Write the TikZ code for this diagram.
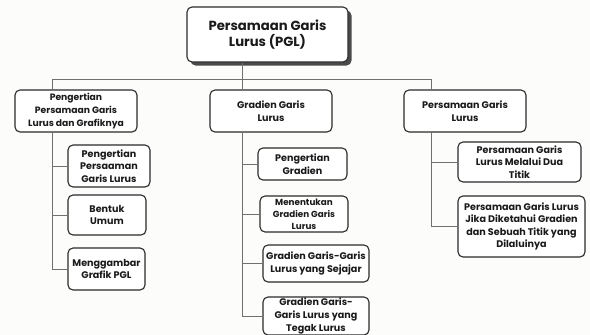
\documentclass[tikz,border=0pt]{standalone}
\usepackage{fontspec}
\setmainfont{Poppins}[BoldFont={Poppins Bold}]
\begin{document}
\begin{tikzpicture}[x=1pt,y=-1pt,
  box/.style={draw=boxc, line width=1.1pt, rounded corners=5pt, fill=white,
    align=center, inner sep=1pt, text=txt, font=\bfseries\fontsize{9.6}{12.6}\selectfont},
  conn/.style={draw=connc, line width=0.9pt}]
\definecolor{bg}{HTML}{FCFCFA}
\definecolor{boxc}{HTML}{2A2A2A}
\definecolor{txt}{HTML}{1A1A1A}
\definecolor{connc}{HTML}{707070}
\definecolor{shad}{HTML}{4A4A4A}
\fill[bg] (0,0) rectangle (590,335);
\useasboundingbox (0,0) rectangle (590,335);
% top
\fill[shad, rounded corners=5pt] (190.5,10.5) rectangle (351.5,65.5);
\node[box, minimum width=161pt, minimum height=55pt, font=\bfseries\fontsize{13.2}{16.8}\selectfont] (top) at (267.5,34.5) {Persamaan Garis\\Lurus (PGL)};
% level 1
\node[box, minimum width=122pt, minimum height=42pt, font=\bfseries\fontsize{9.2}{12.8}\selectfont] (L) at (76,111) {Pengertian\\Persamaan Garis\\Lurus dan Grafiknya};
\node[box, minimum width=122pt, minimum height=42pt] (M) at (271,111) {Gradien Garis\\Lurus};
\node[box, minimum width=122pt, minimum height=42pt] (R) at (465,111) {Persamaan Garis\\Lurus};
% left children
\node[box, minimum width=82pt, minimum height=42pt] (c1) at (109,166) {Pengertian\\Persaaman\\Garis Lurus};
\node[box, minimum width=78pt, minimum height=40pt] (c2) at (107,215) {Bentuk\\Umum};
\node[box, minimum width=77pt, minimum height=42pt] (c3) at (106.5,269) {Menggambar\\Grafik PGL};
% middle children
\node[box, minimum width=89pt, minimum height=32pt] (m1) at (302.5,164) {Pengertian\\Gradien};
\node[box, minimum width=88pt, minimum height=36pt, font=\bfseries\fontsize{8.8}{11.8}\selectfont] (m2) at (304,214) {Menentukan\\Gradien Garis\\Lurus};
\node[box, minimum width=106pt, minimum height=37pt] (m3) at (316,263.5) {Gradien Garis-Garis\\Lurus yang Sejajar};
\node[box, minimum width=106pt, minimum height=38pt] (m4) at (316,316) {Gradien Garis-\\Garis Lurus yang\\Tegak Lurus};
% right children
\node[box, minimum width=123pt, minimum height=40pt] (r1) at (519.5,162) {Persamaan Garis\\Lurus Melalui Dua\\Titik};
\node[box, minimum width=127pt, minimum height=61pt] (r2) at (521.5,226.5) {Persamaan Garis Lurus\\Jika Diketahui Gradien\\dan Sebuah Titik yang\\Dilaluinya};
% connectors
\coordinate (tc) at (242,79);
\coordinate (tl) at (52,79);
\coordinate (tr) at (431,79);
\draw[conn] (tc |- top.south) -- (tc);
\draw[conn] (tl) -- (tr);
\draw[conn] (tl) -- (tl |- L.north);
\draw[conn] (tc) -- (tc |- M.north);
\draw[conn] (tr) -- (tr |- R.north);
\draw[conn] (tl |- L.south) -- (tl |- c3.west) -- (c3.west);
\draw[conn] (tl |- c1.west) -- (c1.west);
\draw[conn] (tl |- c2.west) -- (c2.west);
\draw[conn] (tc |- M.south) -- (tc |- m4.west) -- (m4.west);
\draw[conn] (tc |- m1.west) -- (m1.west);
\draw[conn] (tc |- m2.west) -- (m2.west);
\draw[conn] (tc |- m3.west) -- (m3.west);
\draw[conn] (tr |- R.south) -- (tr |- r2.west) -- (r2.west);
\draw[conn] (tr |- r1.west) -- (r1.west);
\end{tikzpicture}
\end{document}
